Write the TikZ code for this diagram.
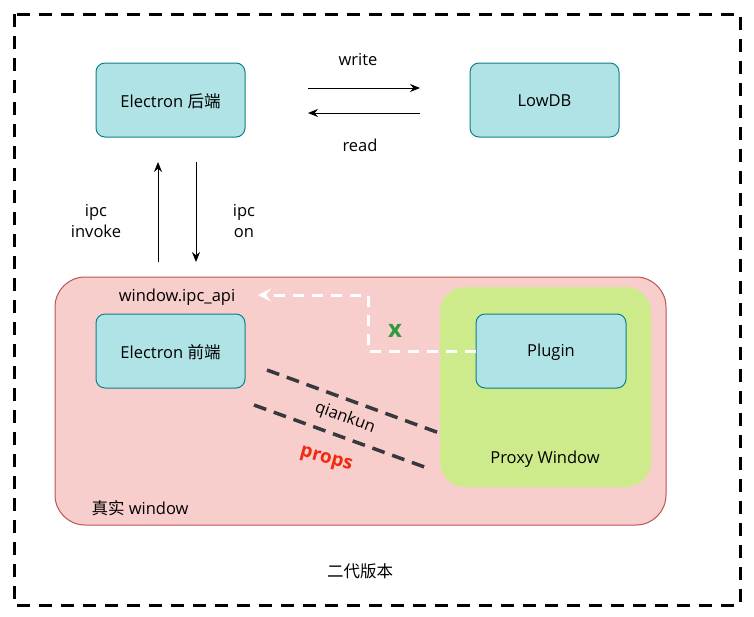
\documentclass[tikz,border=0pt]{standalone}
\usepackage{fontspec}
\setmainfont{Open Sans}
\newfontfamily\cjk{Noto Sans CJK SC}
\usetikzlibrary{arrows.meta}
\definecolor{bluef}{HTML}{B0E3E6}
\definecolor{bluel}{HTML}{0E8088}
\definecolor{redf}{HTML}{F8CECC}
\definecolor{redl}{HTML}{B85450}
\definecolor{greenf}{HTML}{CDEB8B}
\definecolor{darkl}{HTML}{36393D}
\definecolor{xgreen}{HTML}{2D9A3E}
\definecolor{propred}{HTML}{F0290F}
\begin{document}
\begin{tikzpicture}[x=1pt,y=-1pt,
  every node/.style={font=\fontsize{16.5}{21}\selectfont},
  bluebox/.style={draw=bluel,fill=bluef,rounded corners=9pt,line width=1pt},
  lbl/.style={inner sep=0pt,align=center},
  blk/.style={-{Stealth[length=10pt,width=8pt]},line width=1pt},
  dk/.style={draw=darkl,line width=3.5pt,dash pattern=on 13pt off 8pt}]
\useasboundingbox (0,0) rectangle (754,616);
\draw[line width=3pt,dash pattern=on 13pt off 9pt] (14,14) rectangle (740,605);
% real window
\draw[fill=redf,draw=redl,line width=1pt,rounded corners=30pt] (55,277) rectangle (666,525);
\fill[greenf,rounded corners=25pt] (440,287) rectangle (651,487);
% boxes
\draw[bluebox] (96,63) rectangle (245,137);
\node[lbl] (eb) at (170.5,101) {Electron {\cjk 后端}};
\draw[bluebox] (470,63) rectangle (619,137);
\node[lbl] (db) at (544.5,101) {LowDB};
\draw[bluebox] (96,314) rectangle (245,388);
\node[lbl] (ef) at (170.5,352) {Electron {\cjk 前端}};
\draw[bluebox] (476,314) rectangle (626,388);
\node[lbl] (pl) at (551,352) {Plugin};
% coordinates
\coordinate (w1) at (308,88); \coordinate (w2) at (420,88);
\coordinate (r1) at (420,113); \coordinate (r2) at (308,113);
\coordinate (u1) at (158,262); \coordinate (u2) at (158,162);
\coordinate (d1) at (196,162); \coordinate (d2) at (196,262);
\draw[blk] (w1) -- (w2);
\draw[blk] (r1) -- (r2);
\draw[blk] (u1) -- (u2);
\draw[blk] (d1) -- (d2);
\node[lbl] (tw) at (358,60) {write};
\node[lbl] (tr) at (360,145) {read};
\node[lbl] (ti) at (96,221) {ipc\\invoke};
\node[lbl] (to) at (244,221) {ipc\\on};
% labels
\node[lbl] (api) at (177,297) {window.ipc\_api};
\node[lbl] (rw) at (140,508) {{\cjk 真实} window};
\node[lbl] (pw) at (545,459) {Proxy Window};
\node[lbl] (ver) at (360,571) {\cjk 二代版本};
% white dashed arrow
\coordinate (pa) at (476,351);
\coordinate (pb) at (368,351);
\coordinate (pc) at (368,295);
\coordinate (pd) at (258,295);
\draw[white,line width=3pt,dash pattern=on 11pt off 8pt,-{Stealth[length=13pt,width=13pt,inset=5pt]}] (pa) -- (pb) -- (pc) -- (pd);
\node[lbl,text=xgreen,font=\fontsize{24}{24}\selectfont\bfseries] (x) at (395,331) {x};
% dark dashed lines
\coordinate (a1) at (267,370); \coordinate (a2) at (442,434);
\coordinate (b1) at (254,405); \coordinate (b2) at (430,469);
\draw[dk] (a1) -- (a2);
\draw[dk] (b1) -- (b2);
\node[lbl,rotate=-20] (qk) at (345,418) {qiankun};
\node[lbl,rotate=-15,text=propred,font=\fontsize{19}{19}\selectfont\bfseries] (pr) at (326,460) {props};
\end{tikzpicture}
\end{document}
